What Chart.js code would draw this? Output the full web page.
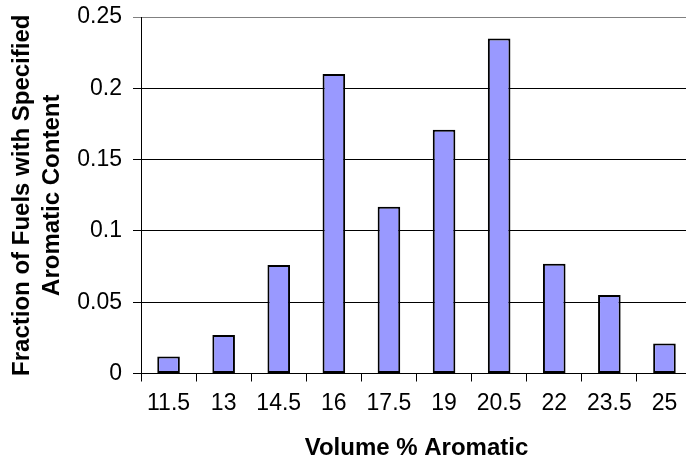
<!DOCTYPE html>
<html>
<head>
<meta charset="utf-8">
<title>Aromatic content distribution</title>
<script src="https://cdn.jsdelivr.net/npm/chart.js@4.4.1/dist/chart.umd.min.js"></script>
<style>
  html, body { margin: 0; padding: 0; background: #fff; overflow: hidden; }
  #wrap { position: relative; width: 692px; height: 464px; }
</style>
</head>
<body>
<div id="wrap"><canvas id="chart"></canvas></div>
<script>
// Volume % aromatic bins and the fraction of fuels falling in each
const categories = ['11.5', '13', '14.5', '16', '17.5', '19', '20.5', '22', '23.5', '25'];
const fractions = [0.012, 0.027, 0.076, 0.210, 0.117, 0.171, 0.235, 0.077, 0.055, 0.021];
const yTickValues = [0, 0.05, 0.1, 0.15, 0.2, 0.25];

const xTitle = 'Volume % Aromatic';
const yTitle = ['Fraction of Fuels with Specified', 'Aromatic Content'];

const FONT = '"Liberation Sans", Arial, sans-serif';

new Chart(document.getElementById('chart'), {
  type: 'bar',
  data: {
    labels: categories,
    datasets: [{
      data: fractions,
      backgroundColor: '#9999FF',
      borderColor: '#000000',
      borderWidth: 2,
      borderSkipped: false,
      categoryPercentage: 1,
      barPercentage: 0.41
    }]
  },
  options: {
    responsive: true,
    maintainAspectRatio: false,
    animation: false,
    layout: { padding: { top: 17, left: 0, right: 0, bottom: 0 } },
    plugins: {
      legend: { display: false },
      tooltip: { enabled: false }
    },
    scales: {
      x: {
        offset: true,
        grid: {
          offset: true,
          drawOnChartArea: false,
          drawTicks: true,
          tickLength: 8,
          color: '#000000',
          lineWidth: 1
        },
        border: { color: '#000000', width: 1 },
        ticks: {
          color: '#000000',
          font: { family: FONT, size: 23 },
          padding: 8,
          maxRotation: 0,
          autoSkip: false
        },
        title: {
          display: true,
          text: xTitle,
          color: '#000000',
          font: { family: FONT, size: 24, weight: 'bold' },
          padding: { top: 0, bottom: 1 }
        },
        afterFit: (scale) => {
          scale.height = 90.5;
          scale.paddingLeft = 0;
          scale.paddingRight = 0;
        }
      },
      y: {
        min: 0,
        max: 0.25,
        afterBuildTicks: (scale) => {
          scale.ticks = yTickValues.map(v => ({ value: v }));
        },
        grid: {
          drawTicks: true,
          tickLength: 8,
          color: (ctx) => (ctx.tick && ctx.tick.value === 0.25 ? '#808080' : '#000000'),
          lineWidth: 1
        },
        border: { color: '#000000', width: 1 },
        ticks: {
          color: '#000000',
          font: { family: FONT, size: 23 },
          padding: 11,
          callback: (value) => String(value)
        },
        title: {
          display: true,
          text: yTitle,
          color: '#000000',
          font: { family: FONT, size: 24, weight: 'bold', lineHeight: 1.23 },
          padding: { top: 8, bottom: 0 }
        },
        afterFit: (scale) => {
          scale.width = 141;
          scale.paddingTop = 0;
          scale.paddingBottom = 0;
        }
      }
    }
  }
});
</script>
</body>
</html>
